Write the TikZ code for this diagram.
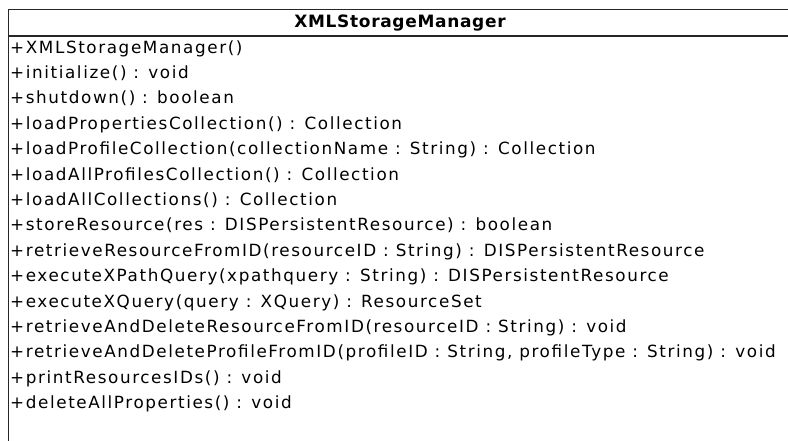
\documentclass[tikz,border=0pt]{standalone}
\usepackage{fontspec}
\setmainfont{DejaVu Sans}[LetterSpace=9.5]
\newfontfamily\classtitlefont{DejaVu Sans}[LetterSpace=4]
\begin{document}
\begin{tikzpicture}[x=1pt,y=1pt,
  boxline/.style={line width=1.7pt, draw=black!85},
  member/.style={anchor=base west, inner sep=0pt, font=\fontsize{16.8}{19}\selectfont},
  classname/.style={inner sep=0pt, font=\classtitlefont\bfseries\fontsize{17}{19}\selectfont}]
\useasboundingbox (0,0) rectangle (788,-440);
\clip (0,0) rectangle (788,-440);
\fill[white] (0,0) rectangle (788,-440);
% class box outline and compartment divider
\coordinate (tl) at (8.5,-9.5);
\coordinate (tr) at (800,-9.5);
\coordinate (bl) at (8.5,-460);
\coordinate (dl) at (8.5,-36);
\coordinate (dr) at (800,-36);
\draw[boxline] (bl) -- (tl) -- (tr);
\draw[boxline] (dl) -- (dr);
% class name
\node[classname] (title) at (400,-23) {XMLStorageManager};
% operations
\def\rowgap{25.4}
\def\rowtop{-53}
\node[member] (op1)  at (10,\rowtop) {+XMLStorageManager()};
\node[member] (op2)  at (10,{\rowtop-1*\rowgap}) {+initialize() : void};
\node[member] (op3)  at (10,{\rowtop-2*\rowgap}) {+shutdown() : boolean};
\node[member] (op4)  at (10,{\rowtop-3*\rowgap}) {+loadPropertiesCollection() : Collection};
\node[member] (op5)  at (10,{\rowtop-4*\rowgap}) {+loadProfileCollection(collectionName : String) : Collection};
\node[member] (op6)  at (10,{\rowtop-5*\rowgap}) {+loadAllProfilesCollection() : Collection};
\node[member] (op7)  at (10,{\rowtop-6*\rowgap}) {+loadAllCollections() : Collection};
\node[member] (op8)  at (10,{\rowtop-7*\rowgap}) {+storeResource(res : DISPersistentResource) : boolean};
\node[member] (op9)  at (10,{\rowtop-8*\rowgap}) {+retrieveResourceFromID(resourceID : String) : DISPersistentResource};
\node[member] (op10) at (10,{\rowtop-9*\rowgap}) {+executeXPathQuery(xpathquery : String) : DISPersistentResource};
\node[member] (op11) at (10,{\rowtop-10*\rowgap}) {+executeXQuery(query : XQuery) : ResourceSet};
\node[member] (op12) at (10,{\rowtop-11*\rowgap}) {+retrieveAndDeleteResourceFromID(resourceID : String) : void};
\node[member] (op13) at (10,{\rowtop-12*\rowgap}) {+retrieveAndDeleteProfileFromID(profileID : String, profileType : String) : void};
\node[member] (op14) at (10,{\rowtop-13*\rowgap}) {+printResourcesIDs() : void};
\node[member] (op15) at (10,{\rowtop-14*\rowgap}) {+deleteAllProperties() : void};
\end{tikzpicture}
\end{document}
